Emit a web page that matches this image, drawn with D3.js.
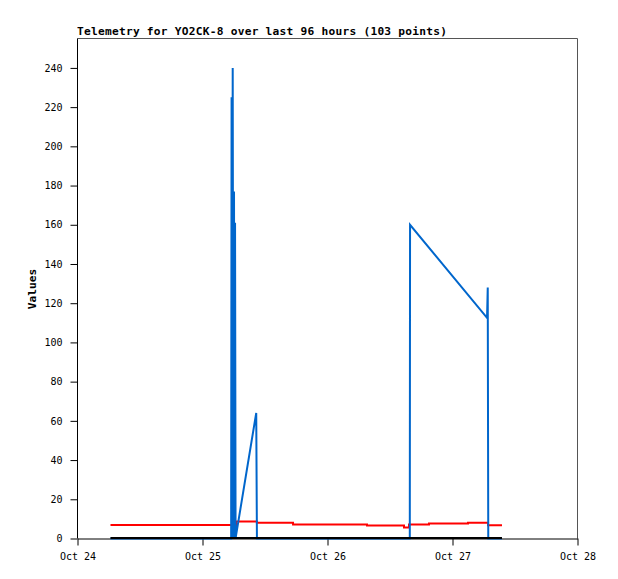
<!DOCTYPE html>
<html>
<head>
<meta charset="utf-8">
<script src="https://cdn.jsdelivr.net/npm/d3@7"></script>
<style>
  body { margin: 0; background: #fff; }
  svg { display: block; }
  .tick text { font-family: "DejaVu Sans Mono", monospace; font-size: 10px; fill: #000; }
</style>
</head>
<body>
<div id="chart"></div>
<script>
// Telemetry series (local time, one row per point)
const redTimes = [
    '2024-10-24T06:20', '2024-10-25T06:26', '2024-10-25T10:27', '2024-10-25T17:23',
    '2024-10-26T07:35', '2024-10-26T14:41', '2024-10-26T15:39', '2024-10-26T19:29',
    '2024-10-27T02:59', '2024-10-27T06:49', '2024-10-27T09:30'
];
const redValues = [6.9, 8.7, 8.0, 7.1, 6.6, 5.6, 7.1, 7.6, 8.0, 6.8, 6.8];

const blueTimes = [
    '2024-10-24T06:20', '2024-10-25T05:30', '2024-10-25T05:35', '2024-10-25T05:41',
    '2024-10-25T05:48', '2024-10-25T05:56', '2024-10-25T06:03', '2024-10-25T06:09',
    '2024-10-25T06:15', '2024-10-25T06:21', '2024-10-25T06:28', '2024-10-25T10:19',
    '2024-10-25T10:27', '2024-10-26T15:48', '2024-10-26T15:51', '2024-10-27T06:38',
    '2024-10-27T06:46', '2024-10-27T06:52', '2024-10-27T09:30'
];
const blueValues = [0, 0, 225, 0, 240, 0, 177, 0, 161, 0, 2, 64, 0, 0, 160, 112.5, 128, 0, 0];

const blackTimes = ['2024-10-24T06:20', '2024-10-27T09:30'];
const blackValues = [0, 0];

const xTickLabels = ['Oct 24', 'Oct 25', 'Oct 26', 'Oct 27', 'Oct 28'];
const yTicks = [0, 20, 40, 60, 80, 100, 120, 140, 160, 180, 200, 220, 240];

const W = 618, H = 579;
const margin = { top: 38.5, right: 40.5, bottom: 40.5, left: 77.5 };
const width = W - margin.left - margin.right;
const height = H - margin.top - margin.bottom;

const parse = d3.timeParse('%Y-%m-%dT%H:%M');
const series = (times, values) => times.map((t, i) => ({ t: parse(t), v: values[i] }));

const svg = d3.select('#chart').append('svg')
    .attr('width', W)
    .attr('height', H)
    .append('g')
    .attr('transform', `translate(${margin.left},${margin.top})`);

const x = d3.scaleTime()
    .domain([new Date(2024, 9, 24), new Date(2024, 9, 28)])
    .range([0, width]);

const y = d3.scaleLinear()
    .domain([0, 255])
    .range([height, 0]);

// frame: grey top/right
svg.append('path')
    .attr('d', `M0,0H${width}V${height}`)
    .attr('fill', 'none')
    .attr('stroke', '#555')
    .attr('stroke-width', 1);

// axes
const xAxis = d3.axisBottom(x)
    .tickValues(d3.timeDay.range(new Date(2024, 9, 24), new Date(2024, 9, 29)))
    .tickFormat((d, i) => xTickLabels[i])
    .tickSizeInner(7)
    .tickSizeOuter(0)
    .tickPadding(7);

const gx = svg.append('g')
    .attr('transform', `translate(0,${height})`)
    .call(xAxis);
gx.select('.domain').attr('stroke', '#000');

const yAxis = d3.axisLeft(y)
    .tickValues(yTicks)
    .tickSizeInner(7)
    .tickSizeOuter(0)
    .tickPadding(8);

const gy = svg.append('g').call(yAxis);
gy.select('.domain').attr('stroke', '#000').attr('d', `M0,0V${height}`);

// title
svg.append('text')
    .attr('x', -0.5)
    .attr('y', -3.5)
    .attr('textLength', 370)
    .attr('lengthAdjust', 'spacing')
    .style('font-family', '"DejaVu Sans Mono", monospace')
    .style('font-weight', 'bold')
    .style('font-size', '11.2px')
    .text('Telemetry for YO2CK-8 over last 96 hours (103 points)');

svg.append('text')
    .attr('transform', `translate(${32 - margin.left},${289 - margin.top}) rotate(-90)`)
    .attr('text-anchor', 'middle')
    .attr('dy', '0.35em')
    .style('font-family', '"DejaVu Sans Mono", monospace')
    .style('font-weight', 'bold')
    .style('font-size', '11.2px')
    .text('Values');

// lines
const stepLine = d3.line().x(d => x(d.t)).y(d => y(d.v)).curve(d3.curveStepAfter);
const lin = d3.line().x(d => x(d.t)).y(d => y(d.v));

svg.append('path')
    .datum(series(redTimes, redValues))
    .attr('d', stepLine)
    .attr('fill', 'none')
    .attr('stroke', '#ff0000')
    .attr('stroke-width', 2);

svg.append('path')
    .datum(series(blueTimes, blueValues))
    .attr('d', lin)
    .attr('fill', 'none')
    .attr('stroke', '#0066cc')
    .attr('stroke-width', 2)
    .attr('stroke-linejoin', 'miter');

svg.append('path')
    .datum(series(blackTimes, blackValues))
    .attr('d', lin)
    .attr('fill', 'none')
    .attr('stroke', '#000')
    .attr('stroke-width', 2)
    .attr('transform', 'translate(0,-0.5)');
</script>
</body>
</html>
